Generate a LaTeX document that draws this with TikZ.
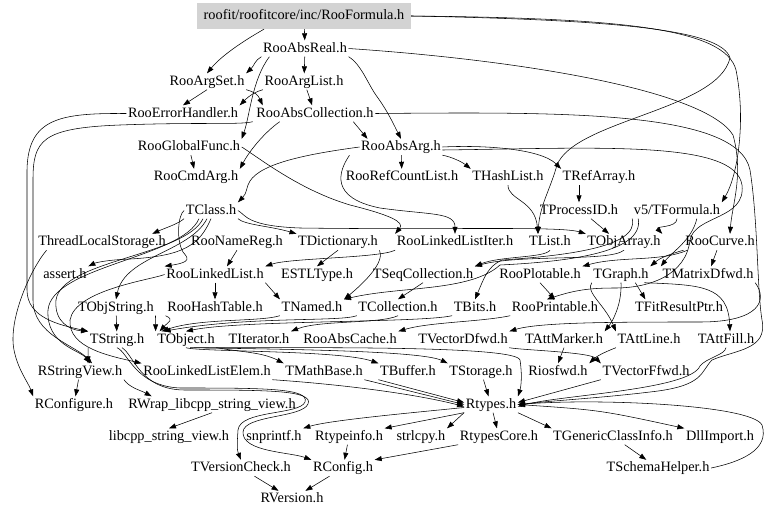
\documentclass[tikz,border=0pt]{standalone}
\usepackage{fontspec}
\setmainfont{Liberation Serif}
\usetikzlibrary{arrows.meta,positioning}
\definecolor{rootfill}{HTML}{D3D3D3}
\newcommand{\fsz}{\fontsize{14.3}{16}\selectfont}

\begin{document}
\begin{tikzpicture}[
  x=1pt, y=-1pt,
  >={Triangle[length=7pt,width=5pt]},
  file/.style={font=\fsz, inner sep=1.5pt, text height=10pt, text depth=3pt},
  root/.style={file, fill=rootfill, minimum width=214pt, minimum height=26pt},
  dep/.style={->, line width=0.55pt, color=black},
]
\useasboundingbox (0,0) rectangle (768,517);

% files
\node[root] (formula) at (304,16) {roofit/roofitcore/inc/RooFormula.h};
\node[file] (absreal) at (305,48.5) {RooAbsReal.h};
\node[file] (argset) at (207,81.5) {RooArgSet.h};
\node[file] (arglist) at (304,81.5) {RooArgList.h};
\node[file] (errh) at (183,113.5) {RooErrorHandler.h};
\node[file] (abscoll) at (315,113.5) {RooAbsCollection.h};
\node[file] (globfunc) at (189,147) {RooGlobalFunc.h};
\node[file] (absarg) at (401,147) {RooAbsArg.h};
\node[file] (cmdarg) at (196,177) {RooCmdArg.h};
\node[file] (refcount) at (402,177) {RooRefCountList.h};
\node[file] (hashlist) at (508,177) {THashList.h};
\node[file] (refarray) at (599,177) {TRefArray.h};
\node[file] (tclass) at (211,210.5) {TClass.h};
\node[file] (procid) at (579,210.5) {TProcessID.h};
\node[file] (tformula) at (677,210.5) {v5/TFormula.h};
\node[file] (tls) at (102,242) {ThreadLocalStorage.h};
\node[file] (namereg) at (237,242) {RooNameReg.h};
\node[file] (tdict) at (338,242) {TDictionary.h};
\node[file] (lliter) at (455,242) {RooLinkedListIter.h};
\node[file] (tlist) at (550,242) {TList.h};
\node[file] (objarray) at (624,242) {TObjArray.h};
\node[file] (curve) at (720,242) {RooCurve.h};
\node[file] (assert) at (65,274.5) {assert.h};
\node[file] (llist) at (215,274.5) {RooLinkedList.h};
\node[file] (estl) at (317,274.5) {ESTLType.h};
\node[file] (seqcoll) at (423,274.5) {TSeqCollection.h};
\node[file] (plotable) at (540,274.5) {RooPlotable.h};
\node[file] (tgraph) at (621,274.5) {TGraph.h};
\node[file] (matd) at (708,274.5) {TMatrixDfwd.h};
\node[file] (objstring) at (116,307.5) {TObjString.h};
\node[file] (hashtab) at (215,307.5) {RooHashTable.h};
\node[file] (tnamed) at (312,307.5) {TNamed.h};
\node[file] (tcoll) at (398,307.5) {TCollection.h};
\node[file] (tbits) at (475,307.5) {TBits.h};
\node[file] (printable) at (555,307.5) {RooPrintable.h};
\node[file] (fitres) at (679,307.5) {TFitResultPtr.h};
\node[file] (tstring) at (117,339.5) {TString.h};
\node[file] (tobject) at (186,339.5) {TObject.h};
\node[file] (titer) at (259,339.5) {TIterator.h};
\node[file] (abscache) at (350,339.5) {RooAbsCache.h};
\node[file] (vecd) at (463,339.5) {TVectorDfwd.h};
\node[file] (attmarker) at (564,339.5) {TAttMarker.h};
\node[file] (attline) at (649,339.5) {TAttLine.h};
\node[file] (attfill) at (726,339.5) {TAttFill.h};
\node[file] (strview) at (80,371.5) {RStringView.h};
\node[file] (llelem) at (207,371.5) {RooLinkedListElem.h};
\node[file] (mathbase) at (324,371.5) {TMathBase.h};
\node[file] (tbuffer) at (408,371.5) {TBuffer.h};
\node[file] (tstorage) at (481,371.5) {TStorage.h};
\node[file] (riosfwd) at (558,371.5) {Riosfwd.h};
\node[file] (vecf) at (646,371.5) {TVectorFfwd.h};
\node[file] (rconfigure) at (74,404.5) {RConfigure.h};
\node[file] (rwrap) at (212,404.5) {RWrap\_libcpp\_string\_view.h};
\node[file] (rtypes) at (491,404.5) {Rtypes.h};
\node[file] (libcpp) at (169,436.5) {libcpp\_string\_view.h};
\node[file] (snprintf) at (274,436.5) {snprintf.h};
\node[file] (rtypeinfo) at (349,436.5) {Rtypeinfo.h};
\node[file] (strlcpy) at (421,436.5) {strlcpy.h};
\node[file] (rtypescore) at (499,436.5) {RtypesCore.h};
\node[file] (genclass) at (613,436.5) {TGenericClassInfo.h};
\node[file] (dllimport) at (720,436.5) {DllImport.h};
\node[file] (versioncheck) at (241,468) {TVersionCheck.h};
\node[file] (rconfig) at (343,468) {RConfig.h};
\node[file] (schema) at (658,468) {TSchemaHelper.h};
\node[file] (rversion) at (292,499) {RVersion.h};

% from the root file
\draw[dep] (formula) -- (absreal);
\draw[dep] ([xshift=-40pt]formula.south) .. controls (245,40) and (222,55) .. (argset.north);
\draw[dep] (formula.east) .. controls (620,18) and (725,28) .. (736,70) .. controls (746,120) and (738,175) .. (tformula.north east);
\draw[dep] (formula.east) .. controls (620,20) and (722,30) .. (730,58) .. controls (718,110) and (575,120) .. (557,165) .. controls (550,190) and (540,205) .. ([xshift=-12pt]tlist.north);

% RooAbsReal
\draw[dep] (absreal.south west) .. controls (255,60) and (254,66) .. (argset.north east);
\draw[dep] (absreal) -- (arglist);
\draw[dep] ([xshift=8pt]absreal.south west) .. controls (252,80) and (250,115) .. (globfunc.north east);
\draw[dep] (absreal.south east) .. controls (362,65) and (368,85) .. (378,98) .. controls (388,112) and (394,125) .. (absarg.north);
\draw[dep] (absreal.east) .. controls (520,60) and (705,90) .. (733,135) .. controls (744,175) and (732,205) .. ([xshift=10pt]curve.north);

% RooArgSet, RooArgList
\draw[dep] (argset.south) -- (errh.north);
\draw[dep] (argset.south east) .. controls (255,92) and (258,95) .. ([xshift=8pt]abscoll.north west);
\draw[dep] (arglist.south west) .. controls (255,92) and (250,95) .. (errh.north east);
\draw[dep] (arglist) -- (abscoll);

% RooErrorHandler, RooAbsCollection
\draw[dep] (errh.west) .. controls (60,113) and (28,118) .. (27,170) -- (27,290) .. controls (27,318) and (60,325) .. (tstring.north west);
\draw[dep] ([xshift=-2pt]abscoll.south west) .. controls (240,125) and (200,122) .. (120,125) .. controls (42,128) and (33,140) .. (33,180) -- (33,300) .. controls (33,335) and (75,345) .. ([xshift=12pt]strview.north);
\draw[dep] ([xshift=25pt]abscoll.south west) .. controls (265,132) and (250,150) .. (cmdarg.north east);
\draw[dep] ([xshift=-22pt]abscoll.south east) -- ([xshift=8pt]absarg.north west);
\draw[dep] (abscoll.east) .. controls (560,112) and (738,110) .. (750,170) .. controls (758,220) and (757,290) .. (762,320) .. controls (768,350) and (735,350) .. (712,360) .. controls (700,372) and (705,386) .. (650,392) .. controls (600,398) and (560,400) .. (rtypes.east);

% RooGlobalFunc
\draw[dep] (globfunc) -- (cmdarg);
\draw[dep] (globfunc.east) .. controls (262,160) and (300,190) .. (350,205) .. controls (390,215) and (405,222) .. (lliter.north west);

% RooAbsArg
\draw[dep] (absarg) -- (refcount);
\draw[dep] (absarg.south east) .. controls (452,157) and (462,162) .. (hashlist.north west);
\draw[dep] (absarg.east) .. controls (480,145) and (540,148) .. (refarray.north west);
\draw[dep] ([yshift=-3pt]absarg.east) .. controls (600,148) and (735,140) .. (742,185) .. controls (746,220) and (695,215) .. (690,240) .. controls (686,275) and (650,288) .. (615,288) .. controls (590,288) and (575,290) .. ([xshift=-8pt]printable.north);
\draw[dep] ([xshift=-10pt]absarg.south west) .. controls (338,172) and (330,198) .. (380,208) .. controls (430,215) and (455,212) .. (lliter.north);
\draw[dep] (absarg.west) .. controls (300,155) and (255,165) .. (248,185) .. controls (245,195) .. (tclass.north east);

% THashList, TRefArray, TProcessID, v5/TFormula
\draw[dep] ([xshift=-20pt]refarray.south) -- (procid.north);
\draw[dep] (hashlist.south) .. controls (508,200) and (535,200) .. ([xshift=-12pt]tlist.north);
\draw[dep] ([xshift=12pt]procid.south) -- ([xshift=-15pt]objarray.north);
\draw[dep] (tformula.south) .. controls (677,228) and (655,226) .. (objarray.north east);
\draw[dep] ([xshift=-25pt]tformula.south east) .. controls (692,240) and (672,252) .. (matd.north west);
\draw[dep] (tformula.south west) .. controls (640,248) and (560,256) .. (502,260) .. controls (488,266) and (484,278) .. (tbits.north);
\draw[dep] ([xshift=6pt]tformula.south west) .. controls (645,254) and (560,262) .. (500,265) .. controls (470,292) and (400,286) .. (tnamed.north east);

% TClass
\draw[dep] (tclass.south west) .. controls (178,224) and (165,228) .. ([xshift=-15pt]tls.north east);
\draw[dep] (tclass.south east) .. controls (245,225) and (270,226) .. (tdict.north west);
\draw[dep] (tclass.south) .. controls (200,244) and (185,256) .. (130,259) .. controls (105,260) and (95,263) .. (assert.north east);
\draw[dep] ([xshift=-4pt]tclass.south) .. controls (190,252) and (125,256) .. (objstring.north);
\draw[dep] ([xshift=-8pt]tclass.south) .. controls (185,256) and (62,260) .. (56,300) .. controls (54,322) and (70,330) .. (tstring.north west);
\draw[dep] ([xshift=-12pt]tclass.south) .. controls (182,258) and (52,266) .. (48,310) .. controls (46,345) and (80,350) .. ([xshift=10pt]strview.north);
\draw[dep] (tclass.west) .. controls (178,215) and (176,240) .. (183,252) .. controls (188,258) and (192,262) .. (llist.north west);
\draw[dep] (tclass.east) .. controls (246,215) and (246,226) .. (300,228) .. controls (450,230) and (560,226) .. (objarray.north west);
\draw[dep] ([xshift=10pt]tls.south west) .. controls (30,270) and (8,320) .. (14,350) .. controls (18,370) and (28,382) .. (rconfigure.north west);

% row of RooNameReg
\draw[dep] (namereg.south) -- ([xshift=12pt]llist.north);
\draw[dep] (tdict.south) -- (estl.north);
\draw[dep] (tdict.south east) .. controls (385,262) and (365,282) .. (tnamed.north east);
\draw[dep] (lliter.south west) .. controls (380,258) and (290,258) .. (llist.north east);
\draw[dep] (tlist.south) .. controls (545,258) and (500,256) .. (seqcoll.north east);
\draw[dep] (objarray.south) .. controls (610,262) and (520,254) .. (seqcoll.north east);
\draw[dep] (curve) -- (matd);
\draw[dep] (curve.south west) .. controls (670,254) and (660,258) .. (tgraph.north east);
\draw[dep] ([xshift=4pt]curve.south west) .. controls (660,262) and (620,256) .. (plotable.north east);

% row of RooLinkedList
\draw[dep] (llist) -- (hashtab);
\draw[dep] (llist.south east) -- (tnamed.north west);
\draw[dep] (llist.west) .. controls (150,280) and (75,290) .. (70,320) .. controls (68,348) and (110,356) .. (llelem.north west);
\draw[dep] (seqcoll.south) -- (tcoll.north);
\draw[dep] (plotable.south) -- (printable.north);
\draw[dep] ([xshift=-15pt]tgraph.south east) -- ([xshift=12pt]fitres.north west);
\draw[dep] ([xshift=-6pt]tgraph.south east) .. controls (700,285) and (728,285) .. ([xshift=4pt]attfill.north);
\draw[dep] (tgraph.south) .. controls (622,305) and (612,322) .. (attmarker.north east);
\draw[dep] (tgraph.south west) .. controls (585,292) and (605,305) .. (attline.north west);
\draw[dep] (matd.south east) .. controls (768,300) and (760,322) .. (700,322) .. controls (620,322) and (540,322) .. (vecd.north east);

% row of TObjString
\draw[dep] (objstring) -- (tstring);
\draw[dep] (objstring.south east) -- (tobject.north west);
\draw[dep] (hashtab.south west) .. controls (175,320) and (168,322) .. ([xshift=4pt]tobject.north west);
\draw[dep] (tnamed.south west) .. controls (260,322) and (200,318) .. ([xshift=6pt]tobject.north west);
\draw[dep] (tcoll.south west) .. controls (340,322) and (250,316) .. ([xshift=8pt]tobject.north west);
\draw[dep] (tbits.south west) .. controls (420,323) and (240,320) .. (tobject.north);
\draw[dep] (tcoll.south) .. controls (380,324) and (320,320) .. (titer.north east);
\draw[dep] (printable.south west) .. controls (480,322) and (430,322) .. (abscache.north east);

% row of TString
\draw[dep] (tstring.south west) -- ([xshift=8pt]strview.north);
\draw[dep] (tobject.south east) .. controls (240,352) and (262,352) .. (mathbase.north west);
\draw[dep] (tobject.south) .. controls (200,352) and (340,350) .. (tbuffer.north west);
\draw[dep] ([xshift=4pt]tobject.south) .. controls (260,349) and (420,350) .. (tstorage.north west);
\draw[dep] ([xshift=8pt]tobject.south) .. controls (300,348) and (516,345) .. (520,360) .. controls (523,380) and (520,390) .. (rtypes.north east);
\draw[dep] (tstring.south) .. controls (128,352) and (135,386) .. (180,388) .. controls (262,388) and (310,388) .. (305,402) .. controls (300,415) and (240,410) .. (238,430) .. controls (237,445) and (237,450) .. (versioncheck.north);
\draw[dep] ([xshift=5pt]tstring.south) .. controls (134,355) and (140,390) .. (185,390) .. controls (266,390) and (314,390) .. (308,404) .. controls (302,418) and (244,415) .. (243,432) .. controls (242,452) and (290,452) .. (rconfig.north west);
\draw[dep] (attmarker.south) -- (riosfwd.north);
\draw[dep] (attline.south west) .. controls (610,350) and (598,355) .. (riosfwd.north east);
\draw[dep] (vecd.south east) .. controls (520,350) and (590,352) .. (vecf.north west);
\draw[dep] (attfill.south) .. controls (725,355) and (706,358) .. (700,366) .. controls (690,390) and (560,395) .. ([yshift=-2pt]rtypes.east);

% row of RStringView
\draw[dep] (strview) -- (rconfigure);
\draw[dep] (strview.south east) .. controls (130,388) and (140,390) .. ([xshift=25pt]rwrap.north west);
\draw[dep] (llelem.south east) .. controls (350,385) and (420,395) .. ([yshift=-2pt]rtypes.west);
\draw[dep] (mathbase.south east) -- (rtypes.west);
\draw[dep] (tbuffer.south west) -- ([yshift=2pt]rtypes.west);
\draw[dep] (tstorage) -- (rtypes);
\draw[dep] (vecf.south west) -- ([yshift=2pt]rtypes.east);

% Rtypes and below
\draw[dep] (rwrap.south) -- (libcpp.north);
\draw[dep] ([yshift=-3pt]rtypes.west) .. controls (420,412) and (330,420) .. (snprintf.north east);
\draw[dep] (rtypes.south west) -- (rtypeinfo.north east);
\draw[dep] (rtypes.south west) -- (strlcpy.north east);
\draw[dep] (rtypes) -- (rtypescore);
\draw[dep] (rtypes.south east) -- (genclass.north west);
\draw[dep] (rtypes.east) .. controls (600,410) .. (dllimport.north west);
\draw[dep] (rtypeinfo) -- (rconfig);
\draw[dep] (rtypescore.south west) -- (rconfig.north east);
\draw[dep] (genclass) -- (schema);
\draw[dep] (schema.east) .. controls (740,462) and (770,450) .. (762,425) .. controls (752,405) and (600,398) .. (rtypes.east);
\draw[dep] (versioncheck) -- (rversion);
\draw[dep] (rconfig) -- (rversion);

\end{tikzpicture}
\end{document}
